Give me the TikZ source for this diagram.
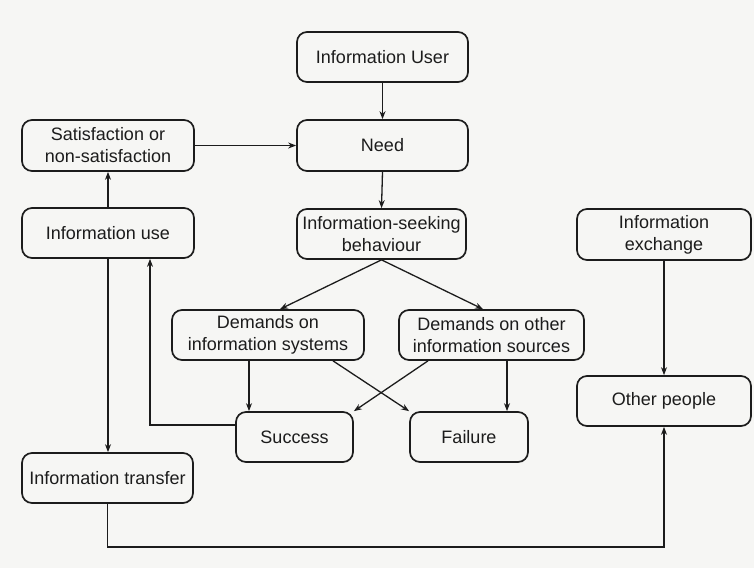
\documentclass[tikz,border=0pt]{standalone}
\usepackage{fontspec}
\setmainfont{Liberation Sans}
\usetikzlibrary{arrows.meta}
\definecolor{paper}{RGB}{246,246,244}
\definecolor{ink}{RGB}{28,28,28}
\begin{document}
\begin{tikzpicture}[x=1pt,y=-1pt,
  box/.style={draw=ink, line width=1.7pt, rounded corners=10pt, align=center,
    text=ink, font=\fontsize{18}{22}\selectfont, inner sep=0pt},
  arr/.style={draw=ink, line width=1.3pt, -{Stealth[length=8pt,width=6pt]}},
  ln/.style={draw=ink, line width=1.3pt}]
% page
\fill[paper] (0,0) rectangle (754,568);
\useasboundingbox (0,0) rectangle (754,568);
% boxes
\node[box, minimum width=171pt, minimum height=50pt] (user) at (382.5,57) {Information User};
\node[box, minimum width=171pt, minimum height=51pt] (need) at (382.5,145.5) {Need};
\node[box, minimum width=172pt, minimum height=51pt] (satis) at (108,145.5) {Satisfaction or\\non-satisfaction};
\node[box, minimum width=172pt, minimum height=50pt] (use) at (108,233) {Information use};
\node[box, minimum width=169pt, minimum height=50pt] (seek) at (381.5,234) {Information-seeking\\behaviour};
\node[box, minimum width=174pt, minimum height=51pt] (exch) at (664,234.5) {Information\\exchange};
\node[box, minimum width=192pt, minimum height=50pt] (dsys) at (268,335) {Demands on\\information systems};
\node[box, minimum width=185pt, minimum height=50pt] (doth) at (491.5,335) {Demands on other\\information sources};
\node[box, minimum width=174pt, minimum height=50pt] (other) at (664,401) {Other people};
\node[box, minimum width=117pt, minimum height=50pt] (succ) at (294.5,437) {Success};
\node[box, minimum width=118pt, minimum height=50pt] (fail) at (469,437) {Failure};
\node[box, minimum width=171pt, minimum height=50pt] (trans) at (107.5,478) {Information transfer};
\coordinate (bottom) at (0,547);
% connectors
\draw[arr] (user.south) -- (need.north);
\draw[arr] (satis.east) -- (need.west);
\draw[arr] (need.south) -- (seek.north);
\draw[arr] (use.north) -- (satis.south);
\draw[arr] (seek.south) -- ([xshift=12pt]dsys.north);
\draw[arr] (seek.south) -- ([xshift=-8.5pt]doth.north);
\draw[arr] ([xshift=-19pt]dsys.south) -- ([xshift=-19pt]dsys.south |- succ.north);
\draw[arr] ([xshift=65pt]dsys.south) -- (fail.north west);
\draw[arr] ([xshift=-63.5pt]doth.south) -- (succ.north east);
\draw[arr] ([xshift=15.5pt]doth.south) -- ([xshift=15.5pt]doth.south |- fail.north);
\draw[arr] ([yshift=12pt]succ.west) -| ([xshift=42pt]use.south);
\draw[arr] (use.south) -- (use.south |- trans.north);
\draw[arr] (trans.south) -- (trans.south |- bottom) -| (other.south);
\draw[arr] (exch.south) -- (other.north);
\end{tikzpicture}
\end{document}
